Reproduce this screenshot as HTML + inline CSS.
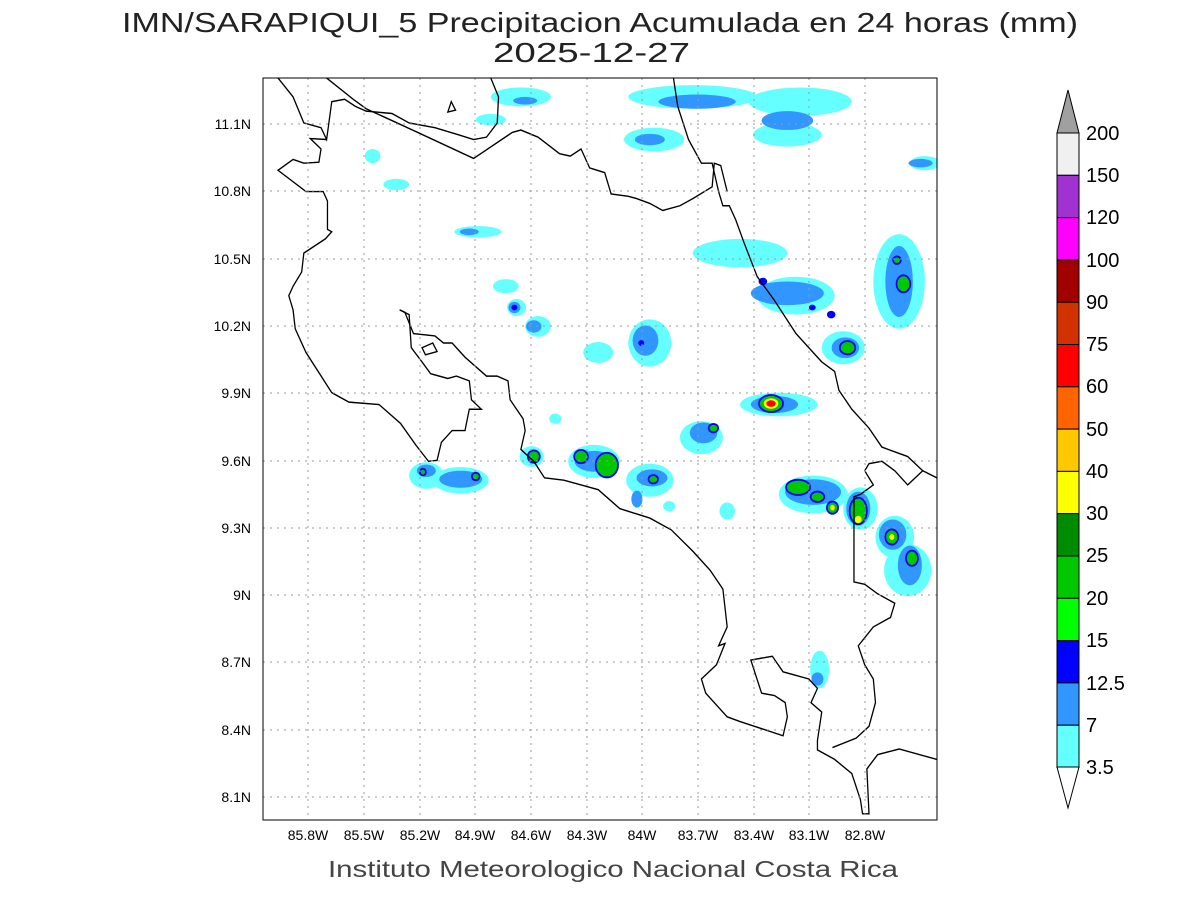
<!DOCTYPE html>
<html><head><style>
body{margin:0;background:#fff;}
svg{display:block;font-family:"Liberation Sans",sans-serif;}
</style></head><body>
<svg width="1200" height="900" viewBox="0 0 1200 900">
<text x="122" y="32" textLength="956" lengthAdjust="spacingAndGlyphs" font-size="28" fill="#222">IMN/SARAPIQUI_5 Precipitacion Acumulada en 24 horas (mm)</text>
<text x="493" y="62" textLength="197" lengthAdjust="spacingAndGlyphs" font-size="28" fill="#222">2025-12-27</text>
<defs><clipPath id="c"><rect x="263" y="78" width="674" height="742"/></clipPath></defs>
<g clip-path="url(#c)">
<g transform="translate(263,78) scale(0.4298,0.4732)">
<g fill="#66ffff">
<ellipse cx="600" cy="40" rx="70" ry="20"/><ellipse cx="530" cy="88" rx="35" ry="12"/>
<ellipse cx="1000" cy="40" rx="150" ry="25"/><ellipse cx="910" cy="130" rx="70" ry="25"/>
<ellipse cx="1250" cy="50" rx="120" ry="30"/><ellipse cx="1220" cy="120" rx="80" ry="25"/>
<ellipse cx="1540" cy="180" rx="35" ry="15"/><ellipse cx="255" cy="165" rx="18" ry="15"/>
<ellipse cx="310" cy="225" rx="30" ry="12"/><ellipse cx="500" cy="325" rx="55" ry="12"/>
<ellipse cx="565" cy="440" rx="30" ry="15"/><ellipse cx="590" cy="485" rx="22" ry="18"/>
<ellipse cx="640" cy="525" rx="30" ry="22"/><ellipse cx="780" cy="580" rx="35" ry="22"/>
<ellipse cx="900" cy="560" rx="50" ry="50"/><ellipse cx="1110" cy="370" rx="110" ry="30"/>
<ellipse cx="1240" cy="460" rx="90" ry="40"/><ellipse cx="1480" cy="430" rx="60" ry="100"/>
<ellipse cx="1350" cy="570" rx="50" ry="35"/><ellipse cx="1200" cy="690" rx="90" ry="25"/>
<ellipse cx="1020" cy="760" rx="50" ry="35"/><ellipse cx="380" cy="840" rx="40" ry="28"/>
<ellipse cx="460" cy="850" rx="65" ry="28"/><ellipse cx="625" cy="800" rx="28" ry="22"/>
<ellipse cx="770" cy="810" rx="60" ry="35"/><ellipse cx="900" cy="850" rx="55" ry="35"/>
<ellipse cx="1280" cy="880" rx="80" ry="40"/><ellipse cx="1390" cy="910" rx="40" ry="45"/>
<ellipse cx="1470" cy="970" rx="45" ry="45"/><ellipse cx="1500" cy="1040" rx="55" ry="55"/>
<ellipse cx="1295" cy="1250" rx="22" ry="40"/><ellipse cx="1080" cy="915" rx="18" ry="18"/>
<ellipse cx="945" cy="905" rx="14" ry="11"/><ellipse cx="680" cy="720" rx="14" ry="11"/>
</g>
<g fill="#3296ff">
<ellipse cx="610" cy="48" rx="28" ry="8"/><ellipse cx="1010" cy="50" rx="90" ry="15"/>
<ellipse cx="900" cy="130" rx="35" ry="12"/><ellipse cx="1220" cy="90" rx="60" ry="20"/>
<ellipse cx="1530" cy="180" rx="28" ry="9"/><ellipse cx="480" cy="325" rx="22" ry="7"/>
<ellipse cx="585" cy="485" rx="14" ry="12"/><ellipse cx="630" cy="525" rx="18" ry="13"/>
<ellipse cx="890" cy="555" rx="30" ry="32"/><ellipse cx="1220" cy="455" rx="85" ry="25"/>
<ellipse cx="1480" cy="430" rx="32" ry="75"/><ellipse cx="1355" cy="570" rx="32" ry="22"/>
<ellipse cx="1190" cy="690" rx="55" ry="18"/><ellipse cx="1025" cy="750" rx="32" ry="22"/>
<ellipse cx="460" cy="848" rx="50" ry="18"/><ellipse cx="380" cy="830" rx="22" ry="13"/>
<ellipse cx="770" cy="810" rx="45" ry="22"/><ellipse cx="905" cy="845" rx="36" ry="18"/>
<ellipse cx="1280" cy="875" rx="65" ry="27"/><ellipse cx="1385" cy="910" rx="28" ry="36"/>
<ellipse cx="1465" cy="965" rx="32" ry="32"/><ellipse cx="1505" cy="1030" rx="28" ry="42"/>
<ellipse cx="1290" cy="1270" rx="14" ry="14"/><ellipse cx="870" cy="890" rx="13" ry="18"/>
</g>
<g fill="#00c800" stroke="#0000ff" stroke-width="4">
<ellipse cx="630" cy="800" rx="14" ry="13"/><ellipse cx="740" cy="800" rx="16" ry="14"/>
<ellipse cx="800" cy="818" rx="26" ry="26"/><ellipse cx="1048" cy="740" rx="11" ry="9"/>
<ellipse cx="1182" cy="688" rx="28" ry="18"/><ellipse cx="1245" cy="865" rx="28" ry="16"/>
<ellipse cx="1290" cy="885" rx="16" ry="11"/><ellipse cx="1325" cy="908" rx="13" ry="13"/>
<ellipse cx="1385" cy="915" rx="20" ry="28"/><ellipse cx="1463" cy="970" rx="15" ry="16"/>
<ellipse cx="1510" cy="1015" rx="14" ry="16"/><ellipse cx="1490" cy="435" rx="16" ry="18"/>
<ellipse cx="1360" cy="570" rx="18" ry="14"/><ellipse cx="908" cy="848" rx="11" ry="9"/>
<ellipse cx="495" cy="842" rx="9" ry="8"/><ellipse cx="372" cy="833" rx="7" ry="7"/>
<ellipse cx="1475" cy="385" rx="9" ry="8"/>
</g>
<ellipse cx="1182" cy="688" rx="17" ry="11" fill="#ffff00"/>
<ellipse cx="1182" cy="688" rx="11" ry="7" fill="#ff0000"/>
<ellipse cx="1385" cy="933" rx="8" ry="8" fill="#ffff00"/>
<ellipse cx="1463" cy="970" rx="6" ry="6" fill="#ffff00"/>
<ellipse cx="1325" cy="908" rx="5" ry="6" fill="#ffff00"/>
<g fill="#0000ff"><ellipse cx="1163" cy="430" rx="10" ry="8"/><ellipse cx="1322" cy="500" rx="10" ry="8"/><ellipse cx="1278" cy="485" rx="8" ry="6"/><ellipse cx="585" cy="485" rx="7" ry="6"/><ellipse cx="880" cy="560" rx="7" ry="6"/></g>
<g fill="none" stroke="#000" stroke-width="3">
<polyline points="35,0 70,40 95,95 135,105 148,130 160,50 190,45 215,60 240,70 300,75 340,95 400,105 455,120 490,130 520,125 545,95 548,40 530,0"/>
<polyline points="148,0 210,45 240,65 300,90 360,115 490,170 580,115 600,110 640,125 690,160 715,165 740,150 760,190 795,200 810,245 850,250 870,255 900,265 930,280 970,270 1000,255 1045,230 1050,180 1065,185 1080,240"/>
<polyline points="148,130 110,128 135,150 130,178 95,180 70,172 35,195 100,240 140,240 150,260 150,320 160,325 145,340 95,370 90,410 70,440 60,460 70,490 75,530 100,580 160,665 200,685 270,690 320,730 355,775 385,810 405,808 415,770 440,745 470,745 480,700 508,700 485,680 480,640 450,630 430,635 390,625 370,600 345,570 340,500 318,490"/>
<polyline points="318,490 330,495 350,540 400,545 420,560 440,560 470,590 520,630 545,630 570,640 575,680 605,720 610,745 600,785 630,810 655,845 700,850 780,870 830,910 900,930 950,955 1000,1000 1040,1040 1070,1080 1080,1160 1060,1200 1075,1195 1055,1240 1020,1270 1030,1300 1080,1350 1110,1360 1210,1390 1220,1350 1215,1320 1190,1305 1160,1300 1135,1230 1185,1222 1210,1255 1270,1270 1290,1290 1275,1320 1300,1340 1290,1400 1290,1420 1330,1440 1370,1470 1390,1525 1395,1555 1410,1555 1405,1460 1430,1430 1480,1418 1568,1440"/>
<polyline points="1325,1415 1380,1395 1410,1370 1425,1320 1420,1270 1400,1240 1385,1200 1420,1160 1460,1140 1470,1110 1430,1090 1400,1070 1375,1065 1375,885 1390,880 1420,860 1400,830 1410,815 1440,810 1470,830 1500,860 1535,830 1568,845"/>
<polyline points="955,0 965,60 990,130 1020,180 1045,180 1060,240 1070,270 1085,270 1100,300 1120,350 1150,420 1190,470 1240,540 1300,600 1330,620 1340,660 1370,700 1410,740 1440,780 1500,800 1535,830"/>
<polygon points="370,570 395,560 405,578 378,585"/>
<polygon points="430,72 438,50 448,68"/>
</g>
</g>
</g>
<g stroke="#999" stroke-width="1" stroke-dasharray="2,5">
<line x1="308" y1="78" x2="308" y2="820"/><line x1="364" y1="78" x2="364" y2="820"/><line x1="420" y1="78" x2="420" y2="820"/><line x1="475" y1="78" x2="475" y2="820"/><line x1="531" y1="78" x2="531" y2="820"/><line x1="587" y1="78" x2="587" y2="820"/><line x1="642" y1="78" x2="642" y2="820"/><line x1="698" y1="78" x2="698" y2="820"/><line x1="754" y1="78" x2="754" y2="820"/><line x1="809" y1="78" x2="809" y2="820"/><line x1="865" y1="78" x2="865" y2="820"/>
<line x1="263" y1="124" x2="937" y2="124"/><line x1="263" y1="191" x2="937" y2="191"/><line x1="263" y1="259" x2="937" y2="259"/><line x1="263" y1="326" x2="937" y2="326"/><line x1="263" y1="393" x2="937" y2="393"/><line x1="263" y1="461" x2="937" y2="461"/><line x1="263" y1="528" x2="937" y2="528"/><line x1="263" y1="595" x2="937" y2="595"/><line x1="263" y1="662" x2="937" y2="662"/><line x1="263" y1="730" x2="937" y2="730"/><line x1="263" y1="797" x2="937" y2="797"/>
</g>
<rect x="263" y="78" width="674" height="742" fill="none" stroke="#000" stroke-width="1"/>
<g font-size="14" fill="#000" text-anchor="end">
<text x="251" y="129">11.1N</text><text x="251" y="196">10.8N</text><text x="251" y="264">10.5N</text><text x="251" y="331">10.2N</text><text x="251" y="398">9.9N</text><text x="251" y="466">9.6N</text><text x="251" y="533">9.3N</text><text x="251" y="600">9N</text><text x="251" y="667">8.7N</text><text x="251" y="735">8.4N</text><text x="251" y="802">8.1N</text>
</g>
<g font-size="14" fill="#000" text-anchor="middle">
<text x="308" y="840">85.8W</text><text x="364" y="840">85.5W</text><text x="420" y="840">85.2W</text><text x="475" y="840">84.9W</text><text x="531" y="840">84.6W</text><text x="587" y="840">84.3W</text><text x="642" y="840">84W</text><text x="698" y="840">83.7W</text><text x="754" y="840">83.4W</text><text x="809" y="840">83.1W</text><text x="865" y="840">82.8W</text>
</g>
<text x="328" y="877" textLength="570" lengthAdjust="spacingAndGlyphs" font-size="23" fill="#444">Instituto Meteorologico Nacional Costa Rica</text>
<g stroke="#000" stroke-width="1">
<polygon points="1057,133 1068,90 1079,133" fill="#a0a0a0"/>
<rect x="1057" y="133" width="22" height="42.3" fill="#f0f0f0"/>
<rect x="1057" y="175.3" width="22" height="42.3" fill="#a032d2"/>
<rect x="1057" y="217.6" width="22" height="42.3" fill="#ff00ff"/>
<rect x="1057" y="259.9" width="22" height="42.3" fill="#a00000"/>
<rect x="1057" y="302.2" width="22" height="42.3" fill="#d23200"/>
<rect x="1057" y="344.5" width="22" height="42.3" fill="#ff0000"/>
<rect x="1057" y="386.8" width="22" height="42.3" fill="#ff6400"/>
<rect x="1057" y="429.1" width="22" height="42.3" fill="#ffc800"/>
<rect x="1057" y="471.4" width="22" height="42.3" fill="#ffff00"/>
<rect x="1057" y="513.7" width="22" height="42.3" fill="#008c00"/>
<rect x="1057" y="556" width="22" height="42.3" fill="#00c800"/>
<rect x="1057" y="598.3" width="22" height="42.3" fill="#00ff00"/>
<rect x="1057" y="640.6" width="22" height="42.3" fill="#0000ff"/>
<rect x="1057" y="682.9" width="22" height="42.3" fill="#3296ff"/>
<rect x="1057" y="725.2" width="22" height="42.3" fill="#64ffff"/>
<polygon points="1057,767 1068,808 1079,767" fill="#fff"/>
</g>
<g font-size="20" fill="#000">
<text x="1086" y="140">200</text><text x="1086" y="182">150</text><text x="1086" y="224">120</text><text x="1086" y="267">100</text><text x="1086" y="309">90</text><text x="1086" y="351">75</text><text x="1086" y="393">60</text><text x="1086" y="436">50</text><text x="1086" y="478">40</text><text x="1086" y="520">30</text><text x="1086" y="562">25</text><text x="1086" y="605">20</text><text x="1086" y="647">15</text><text x="1086" y="690">12.5</text><text x="1086" y="732">7</text><text x="1086" y="774">3.5</text>
</g>
</svg>
</body></html>
